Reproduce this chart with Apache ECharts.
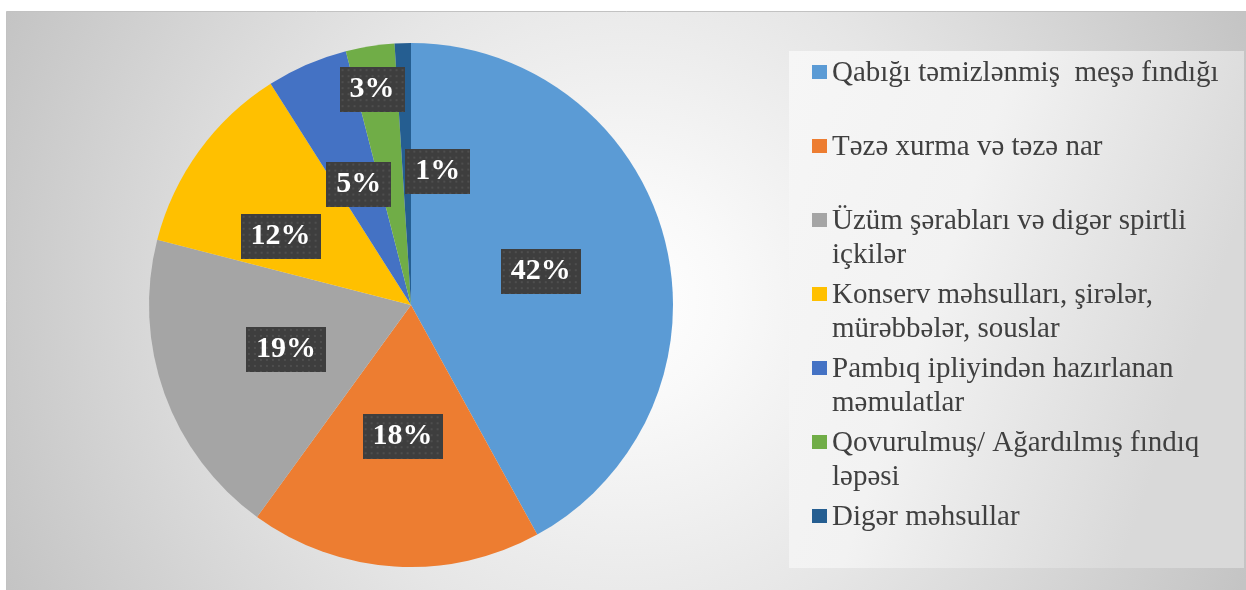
<!DOCTYPE html>
<html>
<head>
<meta charset="utf-8">
<script src="https://cdn.jsdelivr.net/npm/echarts@6/dist/echarts.min.js"></script>
<style>
html,body{margin:0;padding:0;background:#ffffff;}
#chart{width:1246px;height:590px;}
</style>
</head>
<body>
<div id="chart"></div>
<script>
// ---- data ----
const categories = [
  "Qabığı təmizlənmiş meşə fındığı",
  "Təzə xurma və təzə nar",
  "Üzüm şərabları və digər spirtli içkilər",
  "Konserv məhsulları, şirələr, mürəbbələr, souslar",
  "Pambıq ipliyindən hazırlanan məmulatlar",
  "Qovurulmuş/ Ağardılmış fındıq ləpəsi",
  "Digər məhsullar"
];
const shares = [42, 18, 19, 12, 5, 3, 1];
const legendLines = [
  "Qabığı təmizlənmiş  meşə fındığı\n ",
  "Təzə xurma və təzə nar\n ",
  "Üzüm şərabları və digər spirtli\niçkilər",
  "Konserv məhsulları, şirələr,\nmürəbbələr, souslar",
  "Pambıq ipliyindən hazırlanan\nməmulatlar",
  "Qovurulmuş/ Ağardılmış fındıq\nləpəsi",
  "Digər məhsullar\n "
];
const colors = ["#5B9BD5", "#ED7D31", "#A5A5A5", "#FFC000", "#4472C4", "#70AD47", "#255E91"];
// label nudges (layout only)
const labelShift = [[0,0],[0,-2],[1,-1],[-22,10],[1,2],[-18,-83],[31,0]];

const SERIF = '"Liberation Serif", "Times New Roman", "DejaVu Serif", serif';

// dotted dark label background, drawn to the box size
function dottedBg(w, h) {
  const cv = document.createElement('canvas');
  cv.width = w; cv.height = h;
  const c = cv.getContext('2d');
  c.fillStyle = '#3e3e3e'; c.fillRect(0, 0, w, h);
  c.fillStyle = '#4e4e4e';
  for (let y = 2; y < h; y += 6) {
    for (let x = 2; x < w; x += 6) c.fillRect(x, y, 2, 2);
  }
  return cv;
}

const chart = echarts.init(document.getElementById('chart'), null, {renderer:'canvas'});
chart.setOption({
  animation: false,
  color: colors,
  textStyle: {fontFamily: SERIF},
  graphic: [
    {
      type: 'rect', z: 0,
      shape: {x: 6.5, y: 11.5, width: 1246, height: 590},
      style: {
        fill: {type:'radial', x: 626, y: 300, r: 680, global: true,
          colorStops: [
            {offset: 0, color: '#ffffff'},
            {offset: 0.15, color: '#f9f9f9'},
            {offset: 0.5, color: '#e6e6e6'},
            {offset: 1, color: '#c4c4c4'}
          ]},
        stroke: '#c2c2c2', lineWidth: 1
      }
    },
    {
      type: 'rect', z: 1,
      shape: {x: 789, y: 51, width: 455, height: 517},
      style: {
        fill: {type:'linear', x: 0, y: 0, x2: 1, y2: 0.3,
          colorStops: [
            {offset: 0, color: '#f6f6f6'},
            {offset: 0.45, color: '#f2f2f2'},
            {offset: 1, color: '#d9d9d9'}
          ]}
      }
    }
  ],
  legend: {
    orient: 'vertical',
    left: 812, top: 56,
    padding: 0,
    itemWidth: 15, itemHeight: 68, itemGap: 6,
    icon: 'path://M0,0L0,0M0,9L15,9L15,23L0,23ZM0,68L0,68',
    selectedMode: false,
    itemStyle: {borderWidth: 0},
    textStyle: {fontFamily: SERIF, fontSize: 29, color: '#404040', lineHeight: 34},
    formatter: function (name) { return legendLines[categories.indexOf(name)]; },
    data: categories
  },
  series: [{
    type: 'pie',
    center: [411, 305],
    radius: 262,
    startAngle: 90,
    clockwise: true,
    avoidLabelOverlap: false,
    itemStyle: {borderWidth: 0},
    emphasis: {disabled: true},
    labelLine: {show: false},
    label: {
      show: true,
      position: 'inside',
      formatter: function (p) { return p.value + '%'; },
      color: '#ffffff',
      fontFamily: SERIF,
      fontWeight: 'bold',
      fontSize: 30,
      lineHeight: 30,
      padding: [8, 10, 7, 10],
      shadowColor: 'rgba(0,0,0,0.45)',
      shadowBlur: 7,
      shadowOffsetX: 3,
      shadowOffsetY: 3
    },
    labelLayout: function (p) {
      const s = labelShift[p.dataIndex] || [0,0];
      return {dx: s[0], dy: s[1]};
    },
    data: categories.map(function (c, i) {
      const digits = String(shares[i]).length;
      const w = 20 + 15 * digits + 30;
      return {name: c, value: shares[i], label: {backgroundColor: {image: dottedBg(w, 45)}}};
    })
  }]
});
</script>
</body>
</html>
